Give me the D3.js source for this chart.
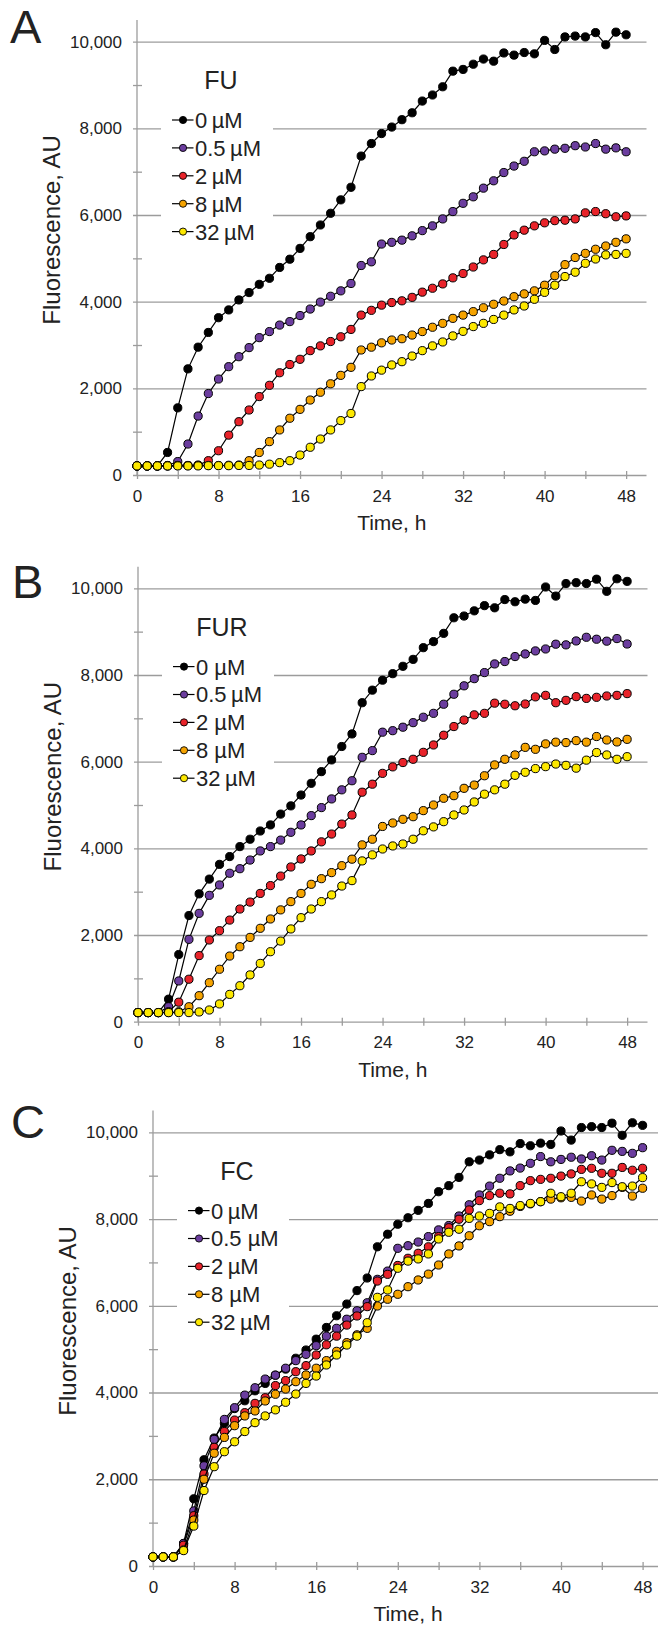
<!DOCTYPE html>
<html>
<head>
<meta charset="utf-8">
<script src="https://cdn.jsdelivr.net/npm/d3@7"></script>
<style>
body { margin: 0; background: #fff; }
svg { display: block; }
text { font-family: "Liberation Sans", Arial, sans-serif; fill: #222; }
</style>
</head>
<body>
<div id="chart"></div>
<script>
(function(){

// hours of measurement
var hours = [0,1,2,3,4,5,6,7,8,9,10,11,12,13,14,15,16,17,18,19,20,21,22,23,24,
             25,26,27,28,29,30,31,32,33,34,35,36,37,38,39,40,41,42,43,44,45,46,47,48];

var colors = ['#000000', '#6b3d9e', '#e8232a', '#f5a300', '#fde800'];

var yMajor = [0, 2000, 4000, 6000, 8000, 10000];
var yMinor = [1000, 3000, 5000, 7000, 9000];
var xMajor = [0, 8, 16, 24, 32, 40, 48];
var xMinor = [4, 12, 20, 28, 36, 44];

// untreated control, same in all three panels
var control = [210,210,210,520,1550,2450,2950,3290,3630,3810,4040,4210,4400,4540,4790,4980,5230,5500,5770,6040,6350,6640,7360,7650,7880,
               8030,8200,8360,8630,8770,8960,9320,9360,9480,9600,9550,9740,9690,9750,9720,10030,9820,10110,10130,10110,10210,9930,10220,10160];

// A - FU
var fu05 = [210,210,210,220,310,715,1360,1880,2215,2500,2730,2940,3170,3310,3460,3540,3680,3830,3990,4125,4250,4420,4835,4920,5330,
            5370,5420,5520,5640,5750,5910,6080,6270,6420,6620,6790,6980,7130,7240,7460,7480,7520,7540,7600,7570,7650,7520,7550,7460];
var fu2  = [210,210,210,210,220,220,230,330,560,920,1230,1500,1810,2070,2360,2550,2670,2870,2980,3080,3190,3360,3690,3800,3920,
            3980,4020,4100,4220,4310,4410,4550,4650,4800,4965,5090,5320,5540,5650,5750,5820,5870,5880,5910,6050,6080,6030,5960,5980];
var fu8  = [210,210,210,210,215,215,220,220,220,225,230,330,520,770,1040,1310,1515,1730,1910,2105,2300,2485,2885,2950,3050,
            3115,3145,3230,3310,3410,3500,3615,3690,3770,3860,3940,4015,4115,4180,4250,4380,4600,4855,5020,5115,5210,5285,5370,5450];
var fu32 = [210,210,210,210,210,210,210,215,215,215,220,220,230,250,285,330,460,640,830,1040,1255,1420,2040,2285,2420,
            2540,2615,2745,2870,2980,3070,3210,3315,3425,3500,3590,3690,3810,3900,4055,4215,4380,4580,4680,4885,4985,5080,5090,5115];

// B - FUR
var fur05 = [210,210,210,345,940,1900,2500,2915,3155,3425,3530,3730,3940,4040,4190,4370,4540,4755,4940,5140,5350,5560,6100,6255,6680,
             6715,6795,6900,7025,7115,7325,7555,7750,7915,8055,8255,8310,8425,8485,8555,8600,8710,8695,8785,8870,8825,8780,8840,8715];
var fur2  = [210,210,210,230,450,980,1525,1885,2100,2345,2600,2760,2960,3140,3360,3570,3755,3940,4150,4330,4560,4770,5295,5480,5730,
             5880,5980,6055,6215,6385,6610,6810,6960,7080,7115,7350,7325,7290,7330,7495,7530,7360,7415,7500,7460,7485,7515,7530,7570];
var fur8  = [210,210,210,210,230,345,600,900,1210,1515,1730,1945,2155,2370,2580,2770,2960,3170,3300,3440,3600,3750,4080,4210,4505,
             4585,4670,4730,4870,5000,5155,5215,5385,5460,5675,5925,6055,6155,6330,6285,6410,6450,6440,6485,6450,6580,6500,6455,6515];
var fur32 = [210,210,210,210,210,210,225,270,410,630,830,1080,1345,1615,1860,2140,2400,2600,2770,2925,3130,3255,3710,3850,3985,
             4055,4100,4210,4405,4495,4615,4770,4885,5070,5250,5350,5480,5685,5755,5840,5885,5945,5915,5850,6035,6210,6155,6055,6115];

// C - FC
var fc05 = [210,210,210,520,1270,2310,2920,3380,3650,3940,4110,4310,4400,4560,4735,4880,5080,5300,5480,5690,5885,6070,6610,6800,7325,
            7385,7470,7595,7750,7850,8070,8330,8555,8760,8940,9110,9175,9285,9440,9320,9375,9425,9385,9460,9360,9585,9560,9515,9645];
var fc2  = [210,210,210,480,1160,2120,2735,3100,3365,3535,3750,3880,4160,4275,4480,4620,4865,5100,5300,5555,5765,5980,6570,6725,6930,
            7095,7210,7360,7595,7800,7995,8210,8425,8540,8595,8580,8770,8885,8915,8940,8990,9040,9145,9170,9055,9055,9190,9125,9170];
var fc8  = [210,210,210,370,1060,2000,2600,2965,3235,3460,3575,3805,3960,4080,4250,4405,4560,4735,4950,5150,5330,5480,5995,6150,6265,
            6440,6595,6730,6940,7195,7380,7615,7845,7940,8055,8180,8290,8350,8400,8460,8490,8500,8415,8555,8460,8540,8730,8530,8710];
var fc32 = [210,210,210,355,920,1740,2290,2635,2865,3100,3305,3460,3600,3775,3965,4210,4380,4635,4865,5095,5300,5610,6195,6365,6865,
            7030,7080,7195,7540,7695,7765,8015,8070,8130,8280,8245,8310,8360,8400,8595,8515,8595,8860,8810,8730,8840,8745,8760,8955];

var width = 658, height = 1626;

var svg = d3.select('#chart').append('svg')
	.attr('width', width)
	.attr('height', height);

var panels = [
	{letter: 'A', title: 'FU',  x0: 137, x1: 646.5, y0: 475,    y10k: 41.7,   lx: 10, ly: 43,
	 labels: ['0\u2009µM', '0.5\u2009µM', '2\u2009µM', '8\u2009µM', '32\u2009µM'],
	 series: [control, fu05, fu2, fu8, fu32]},
	{letter: 'B', title: 'FUR', x0: 138, x1: 647.5, y0: 1021.7, y10k: 588.3,  lx: 12, ly: 598,
	 labels: ['0 µM', '0.5\u2009µM', '2 µM', '8 µM', '32\u2009µM'],
	 series: [control, fur05, fur2, fur8, fur32]},
	{letter: 'C', title: 'FC',  x0: 153, x1: 663,   y0: 1566,   y10k: 1132.3, lx: 11, ly: 1138,
	 labels: ['0\u2009µM', '0.5 µM', '2\u2009µM', '8 µM', '32\u2009µM'],
	 series: [control, fc05, fc2, fc8, fc32]}
];

panels.forEach(drawPanel);

function drawPanel(p) {
	var g = svg.append('g');
	var top = p.y0 - (p.y0 - p.y10k) * 1.05;

	var x = d3.scaleLinear().domain([0, 50]).range([p.x0, p.x1]);
	var y = d3.scaleLinear().domain([0, 10500]).range([p.y0, top]);

	// gridlines + y labels
	var yAx = g.append('g')
		.attr('transform', 'translate(' + (p.x0 - 4) + ',0)')
		.call(d3.axisLeft(y).tickValues(yMajor)
			.tickSize(-(p.x1 - p.x0) - 4).tickPadding(11)
			.tickFormat(d3.format(',')));
	yAx.select('.domain').remove();
	yAx.selectAll('line').attr('stroke', '#9c9c9c').attr('stroke-width', 1.3);
	yAx.selectAll('text').style('font-size', '17px').attr('fill', '#222');

	var yMin = g.append('g')
		.attr('transform', 'translate(' + (p.x0 + 5) + ',0)')
		.call(d3.axisLeft(y).tickValues(yMinor).tickSize(9).tickFormat(''));
	yMin.select('.domain').remove();
	yMin.selectAll('line').attr('stroke', '#9c9c9c').attr('stroke-width', 1.3);

	// x ticks + labels
	var xAx = g.append('g')
		.attr('transform', 'translate(0,' + (p.y0 - 4) + ')')
		.call(d3.axisBottom(x).tickValues(xMajor).tickSize(8).tickPadding(10.6));
	xAx.select('.domain').remove();
	xAx.selectAll('line').attr('stroke', '#9c9c9c').attr('stroke-width', 1.3);
	xAx.selectAll('text').style('font-size', '17px').attr('fill', '#222');

	var xMin = g.append('g')
		.attr('transform', 'translate(0,' + (p.y0 - 4) + ')')
		.call(d3.axisBottom(x).tickValues(xMinor).tickSize(8).tickFormat(''));
	xMin.select('.domain').remove();
	xMin.selectAll('line').attr('stroke', '#9c9c9c').attr('stroke-width', 1.3);

	// y axis line
	g.append('line')
		.attr('x1', p.x0).attr('x2', p.x0)
		.attr('y1', top).attr('y2', p.y0)
		.attr('stroke', '#9c9c9c').attr('stroke-width', 1.3);

	// axis titles
	g.append('text')
		.attr('x', (p.x0 + p.x1) / 2)
		.attr('y', p.y0 + 55)
		.attr('text-anchor', 'middle')
		.style('font-size', '21px')
		.text('Time, h');

	g.append('text')
		.attr('transform', 'translate(' + (p.x0 - 85) + ',' + (p.y0 - 245) + ') rotate(-90)')
		.attr('text-anchor', 'middle')
		.attr('dy', '0.35em')
		.style('font-size', '24px')
		.text('Fluorescence, AU');

	// panel letter
	g.append('text')
		.attr('x', p.lx).attr('y', p.ly)
		.style('font-size', '47px')
		.text(p.letter);

	// legend (white box breaks the gridlines)
	g.append('rect')
		.attr('x', p.x0 + 24).attr('y', p.y10k + 62)
		.attr('width', 112).attr('height', 143)
		.attr('fill', '#fff');

	g.append('text')
		.attr('x', p.x0 + 84).attr('y', p.y10k + 47.5)
		.attr('text-anchor', 'middle')
		.style('font-size', '25px')
		.text(p.title);

	var leg = g.selectAll('g.legend').data(p.labels).enter()
		.append('g')
		.attr('class', 'legend')
		.attr('transform', function(d, i) {
			return 'translate(' + p.x0 + ',' + (p.y10k + 78.3 + i * 27.9) + ')';
		});
	leg.append('line')
		.attr('x1', 35).attr('x2', 56.5)
		.attr('stroke', '#000').attr('stroke-width', 1.2);
	leg.append('circle')
		.attr('cx', 46).attr('r', 3.6)
		.attr('fill', function(d, i) { return colors[i]; })
		.attr('stroke', '#000').attr('stroke-width', 0.9);
	leg.append('text')
		.attr('x', 58).attr('dy', '0.36em')
		.style('font-size', '22px')
		.text(function(d) { return d; });

	// series, each line drawn with its markers
	var line = d3.line()
		.x(function(d, i) { return x(hours[i]); })
		.y(function(d) { return y(d); });

	p.series.forEach(function(s, k) {
		g.append('path')
			.datum(s)
			.attr('d', line)
			.attr('fill', 'none')
			.attr('stroke', '#000')
			.attr('stroke-width', 1.2);
		g.selectAll('circle.s' + k).data(s).enter()
			.append('circle')
			.attr('class', 's' + k)
			.attr('cx', function(d, i) { return x(hours[i]); })
			.attr('cy', function(d) { return y(d); })
			.attr('r', 4.1)
			.attr('fill', colors[k])
			.attr('stroke', '#000')
			.attr('stroke-width', 1);
	});
}

})();
</script>
</body>
</html>
